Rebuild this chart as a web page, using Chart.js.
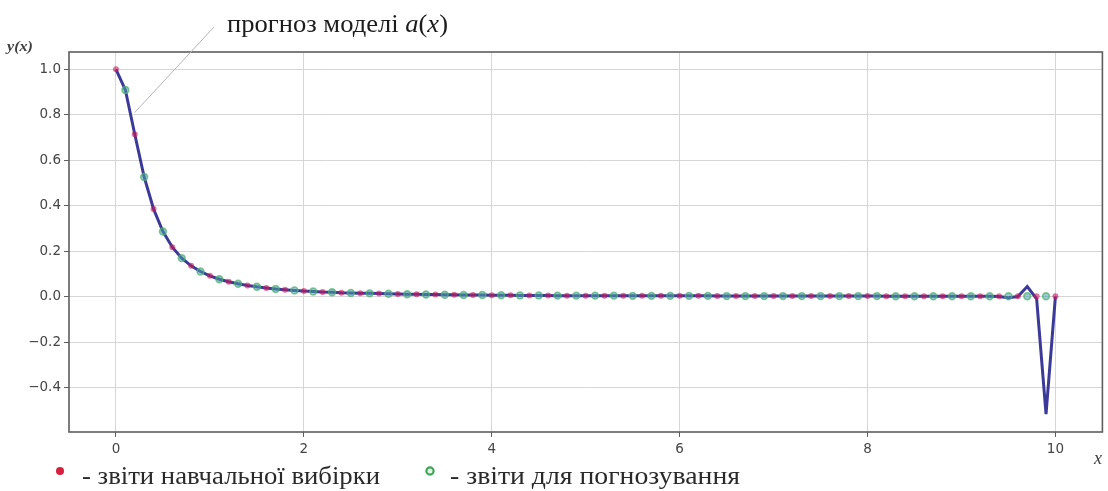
<!DOCTYPE html>
<html>
<head>
<meta charset="utf-8">
<script src="https://cdn.jsdelivr.net/npm/chart.js@4.4.1/dist/chart.umd.min.js"></script>
<style>
  html, body { margin: 0; padding: 0; background: #ffffff; }
  #wrap { width: 1108px; height: 491px; }
</style>
</head>
<body>
<div id="wrap"><canvas id="c" width="1108" height="491"></canvas></div>
<script>
// Training samples (even grid nodes)
const trainX = [0, 0.2, 0.4, 0.6, 0.8, 1.0, 1.2, 1.4, 1.6, 1.8, 2.0, 2.2, 2.4, 2.6, 2.8, 3.0, 3.2, 3.4, 3.6, 3.8,
  4.0, 4.2, 4.4, 4.6, 4.8, 5.0, 5.2, 5.4, 5.6, 5.8, 6.0, 6.2, 6.4, 6.6, 6.8, 7.0, 7.2, 7.4, 7.6, 7.8,
  8.0, 8.2, 8.4, 8.6, 8.8, 9.0, 9.2, 9.4, 9.6, 9.8, 10.0];
const trainY = [1.000, 0.714, 0.385, 0.217, 0.135, 0.091, 0.065, 0.049, 0.038, 0.030, 0.024, 0.020, 0.017, 0.015, 0.013, 0.011, 0.010, 0.009, 0.008, 0.007,
  0.006, 0.006, 0.005, 0.005, 0.004, 0.004, 0.004, 0.003, 0.003, 0.003, 0.003, 0.003, 0.002, 0.002, 0.002, 0.002, 0.002, 0.002, 0.002, 0.002,
  0.002, 0.001, 0.001, 0.001, 0.001, 0.001, 0.001, 0.001, 0.001, 0.001, 0.001];

// Samples used for forecasting (odd grid nodes)
const testX = [0.1, 0.3, 0.5, 0.7, 0.9, 1.1, 1.3, 1.5, 1.7, 1.9, 2.1, 2.3, 2.5, 2.7, 2.9, 3.1, 3.3, 3.5, 3.7, 3.9,
  4.1, 4.3, 4.5, 4.7, 4.9, 5.1, 5.3, 5.5, 5.7, 5.9, 6.1, 6.3, 6.5, 6.7, 6.9, 7.1, 7.3, 7.5, 7.7, 7.9,
  8.1, 8.3, 8.5, 8.7, 8.9, 9.1, 9.3, 9.5, 9.7, 9.9];
const testY = [0.909, 0.526, 0.286, 0.169, 0.110, 0.076, 0.056, 0.043, 0.033, 0.027, 0.022, 0.019, 0.016, 0.014, 0.012, 0.010, 0.009, 0.008, 0.007, 0.007,
  0.006, 0.005, 0.005, 0.004, 0.004, 0.004, 0.004, 0.003, 0.003, 0.003, 0.003, 0.003, 0.002, 0.002, 0.002, 0.002, 0.002, 0.002, 0.002, 0.002,
  0.002, 0.001, 0.001, 0.001, 0.001, 0.001, 0.001, 0.001, 0.001, 0.001];

// Model forecast a(x) on the full grid
const modelX = [0, 0.1, 0.2, 0.3, 0.4, 0.5, 0.6, 0.7, 0.8, 0.9, 1.0, 1.1, 1.2, 1.3, 1.4, 1.5, 1.6, 1.7, 1.8, 1.9,
  2.0, 2.1, 2.2, 2.3, 2.4, 2.5, 2.6, 2.7, 2.8, 2.9, 3.0, 3.1, 3.2, 3.3, 3.4, 3.5, 3.6, 3.7, 3.8, 3.9,
  4.0, 4.1, 4.2, 4.3, 4.4, 4.5, 4.6, 4.7, 4.8, 4.9, 5.0, 5.1, 5.2, 5.3, 5.4, 5.5, 5.6, 5.7, 5.8, 5.9,
  6.0, 6.1, 6.2, 6.3, 6.4, 6.5, 6.6, 6.7, 6.8, 6.9, 7.0, 7.1, 7.2, 7.3, 7.4, 7.5, 7.6, 7.7, 7.8, 7.9,
  8.0, 8.1, 8.2, 8.3, 8.4, 8.5, 8.6, 8.7, 8.8, 8.9, 9.0, 9.1, 9.2, 9.3, 9.4, 9.5, 9.6, 9.7, 9.8, 9.9, 10.0];
const modelY = [1.000, 0.909, 0.714, 0.526, 0.385, 0.286, 0.217, 0.169, 0.135, 0.110, 0.091, 0.076, 0.065, 0.056, 0.049, 0.043, 0.038, 0.033, 0.030, 0.027,
  0.024, 0.022, 0.020, 0.019, 0.017, 0.016, 0.015, 0.014, 0.013, 0.012, 0.011, 0.010, 0.010, 0.009, 0.009, 0.008, 0.008, 0.007, 0.007, 0.007,
  0.006, 0.006, 0.006, 0.005, 0.005, 0.005, 0.005, 0.004, 0.004, 0.004, 0.004, 0.004, 0.004, 0.004, 0.003, 0.003, 0.003, 0.003, 0.003, 0.003,
  0.003, 0.003, 0.003, 0.003, 0.002, 0.002, 0.002, 0.002, 0.002, 0.002, 0.002, 0.002, 0.002, 0.002, 0.002, 0.002, 0.002, 0.002, 0.002, 0.002,
  0.002, 0.002, 0.001, 0.001, 0.001, 0.001, 0.001, 0.001, 0.001, 0.001, 0.001, 0.001, 0.001, 0.001, 0.000, -0.005, 0.000, 0.044, -0.010, -0.517, 0.001];

// Axis ticks
const xTicks = [0, 2, 4, 6, 8, 10];
const xTickLabels = ['0', '2', '4', '6', '8', '10'];
const yTicks = [-0.4, -0.2, 0.0, 0.2, 0.4, 0.6, 0.8, 1.0];
const yTickLabels = ['\u22120.4', '\u22120.2', '0.0', '0.2', '0.4', '0.6', '0.8', '1.0'];

const toPts = (xs, ys) => xs.map((x, i) => ({ x: x, y: ys[i] }));

const FRAME = '#5e5e5e';
const TICK_FONT = { family: 'DejaVu Sans', size: 13.5 };

// Write a run of (text, font) pieces squeezed/stretched to a given width
function drawRuns(ctx, runs, x, y, width) {
  let total = 0;
  runs.forEach(r => { ctx.font = r.font; total += ctx.measureText(r.text).width; });
  ctx.save();
  ctx.translate(x, y);
  ctx.scale(width / total, 1);
  let cx = 0;
  runs.forEach(r => {
    ctx.font = r.font;
    ctx.fillText(r.text, cx, 0);
    cx += ctx.measureText(r.text).width;
  });
  ctx.restore();
}

// Frame, axis names, callout and the legend row under the plot
const decorations = {
  id: 'decorations',
  afterDatasetsDraw(chart) {
    const { ctx, chartArea: a } = chart;
    ctx.save();
    ctx.strokeStyle = FRAME;
    ctx.lineWidth = 1.6;
    ctx.strokeRect(a.left, a.top, a.right - a.left, a.bottom - a.top);
    ctx.restore();
  },
  afterDraw(chart) {
    const { ctx } = chart;
    const xs = chart.scales.x, ys = chart.scales.y;
    ctx.save();

    // axis names
    ctx.fillStyle = '#3e3e3e';
    ctx.textBaseline = 'middle';
    ctx.textAlign = 'left';
    drawRuns(ctx, [{ text: 'y(x)', font: 'italic bold 15px "Liberation Serif"' }], 7, 47, 26);
    ctx.font = 'italic 18px "Liberation Serif"';
    ctx.fillText('x', 1094, 459);

    // callout pointing at the forecast curve
    const px = xs.getPixelForValue(0.2);
    const py = ys.getPixelForValue(0.81);
    ctx.strokeStyle = '#b4b4b4';
    ctx.lineWidth = 1;
    ctx.beginPath();
    ctx.moveTo(214, 27);
    ctx.lineTo(px, py);
    ctx.stroke();

    ctx.fillStyle = '#1c1c1c';
    ctx.textBaseline = 'alphabetic';
    const up = '26px "Liberation Serif"', it = 'italic 26px "Liberation Serif"';
    drawRuns(ctx, [
      { text: 'прогноз моделі ', font: up },
      { text: 'a', font: it },
      { text: '(', font: up },
      { text: 'x', font: it },
      { text: ')', font: up }
    ], 227, 32, 221);

    // legend row
    ctx.fillStyle = '#d8203e';
    ctx.beginPath();
    ctx.arc(60, 471, 4, 0, Math.PI * 2);
    ctx.fill();

    ctx.fillStyle = '#e3f3e5';
    ctx.strokeStyle = '#3fa556';
    ctx.lineWidth = 2.2;
    ctx.beginPath();
    ctx.arc(430, 471, 3.6, 0, Math.PI * 2);
    ctx.fill();
    ctx.stroke();

    ctx.fillStyle = '#2a2a2a';
    const lf = '25px "Liberation Serif"';
    drawRuns(ctx, [{ text: '- звіти навчальної вибірки', font: lf }], 82, 484, 298);
    drawRuns(ctx, [{ text: '- звіти для погнозування', font: lf }], 450, 484, 290);
    ctx.restore();
  }
};

new Chart(document.getElementById('c'), {
  type: 'scatter',
  data: {
    datasets: [
      {
        label: 'train',
        data: toPts(trainX, trainY),
        showLine: false,
        pointRadius: 3,
        pointBorderWidth: 0,
        pointBackgroundColor: 'rgba(200, 25, 90, 0.6)',
        order: 1
      },
      {
        label: 'test',
        data: toPts(testX, testY),
        showLine: false,
        pointRadius: 3.4,
        pointBorderWidth: 1.6,
        pointBorderColor: 'rgba(80, 175, 110, 0.7)',
        pointBackgroundColor: 'rgba(70, 160, 170, 0.55)',
        order: 2
      },
      {
        label: 'model',
        data: toPts(modelX, modelY),
        showLine: true,
        borderColor: '#3c3a98',
        borderWidth: 3,
        pointRadius: 0,
        tension: 0,
        order: 3
      }
    ]
  },
  options: {
    responsive: false,
    animation: false,
    devicePixelRatio: 1,
    layout: { padding: { top: 52, right: 4, left: 0, bottom: 0 } },
    plugins: { legend: { display: false }, tooltip: { enabled: false } },
    scales: {
      x: {
        type: 'linear',
        min: -0.5,
        max: 10.5,
        afterBuildTicks: s => { s.ticks = xTicks.map(v => ({ value: v })); },
        afterFit: s => { s.height = 59; },
        border: { display: false },
        grid: { color: '#d6d6d6', lineWidth: 1, tickColor: FRAME, tickLength: 5 },
        ticks: {
          color: '#444',
          font: TICK_FONT,
          padding: 4,
          maxRotation: 0,
          callback: (v, i) => xTickLabels[i]
        }
      },
      y: {
        type: 'linear',
        min: -0.596,
        max: 1.076,
        afterBuildTicks: s => { s.ticks = yTicks.map(v => ({ value: v })); },
        afterFit: s => { s.width = 69; },
        border: { display: false },
        grid: { color: '#d6d6d6', lineWidth: 1, tickColor: FRAME, tickLength: 5 },
        ticks: {
          color: '#444',
          font: TICK_FONT,
          padding: 3,
          callback: (v, i) => yTickLabels[i]
        }
      }
    }
  },
  plugins: [decorations]
});
</script>
</body>
</html>
